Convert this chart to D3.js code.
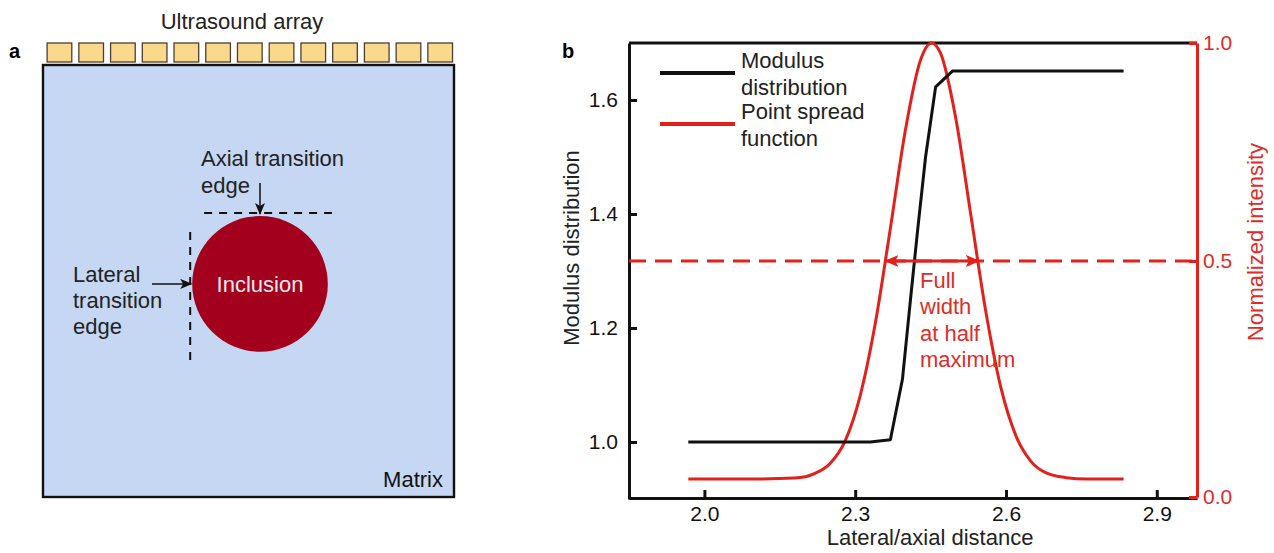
<!DOCTYPE html>
<html>
<head>
<meta charset="utf-8">
<script src="https://cdn.jsdelivr.net/npm/d3@7"></script>
<style>
  html, body { margin: 0; padding: 0; background: #fff; }
  svg { display: block; font-family: "Liberation Sans", Arial, sans-serif; }
</style>
</head>
<body>
<svg id="fig" width="1274" height="553"></svg>
<script>
// ---------- Panel b data ----------
// Modulus distribution across the inclusion boundary (distance, modulus)
const modulusDistance = [1.968, 2.330, 2.370, 2.394, 2.410, 2.424, 2.440, 2.460, 2.494, 2.834];
const modulusValue    = [1.000, 1.000, 1.004, 1.110, 1.250, 1.370, 1.500, 1.623, 1.651, 1.651];

// Point spread function (distance, normalized intensity)
const psfDistance  = [1.968, 2.100, 2.180, 2.220, 2.250, 2.280, 2.310, 2.340, 2.370, 2.400, 2.430, 2.452,
                      2.470, 2.500, 2.530, 2.560, 2.590, 2.620, 2.650, 2.680, 2.720, 2.760, 2.834];
const psfIntensity = [0.038, 0.038, 0.040, 0.050, 0.071, 0.119, 0.215, 0.368, 0.575, 0.801, 0.961, 1.000,
                      0.976, 0.828, 0.606, 0.392, 0.231, 0.129, 0.075, 0.051, 0.041, 0.038, 0.038];

const halfMaximum = 0.5;
const fwhmRange = [2.360, 2.546];

const xTicks = [2.0, 2.3, 2.6, 2.9];
const yLeftTicks = [1.0, 1.2, 1.4, 1.6];
const yRightTicks = [0.0, 0.5, 1.0];

const legendLabels = [["Modulus", "distribution"], ["Point spread", "function"]];
const fwhmLabel = ["Full", "width", "at half", "maximum"];

// ---------- Panel a schematic (in schematic units) ----------
const elementCount = 13;
const elementPitch = 7.72;
const elementWidth = 6.0;
const elementOffset = 1.0;
const matrixSize = [100, 105];
const inclusionCenter = [52.8, 53.2];
const inclusionRadius = 16.5;
const axialEdgeSpan = [39.2, 70.3];
const lateralEdgeSpan = [40.6, 72.5];

const RED = "#e3211c";
const RED_TEXT = "#de2c27";
const FONT = 22;
const TICK_FONT = 21;

const svg = d3.select("#fig");

// Arrow markers
const defs = svg.append("defs");
defs.append("marker").attr("id", "arrowBlack")
  .attr("viewBox", "0 0 12 10").attr("refX", 11).attr("refY", 5)
  .attr("markerWidth", 12).attr("markerHeight", 10).attr("markerUnits", "userSpaceOnUse")
  .attr("orient", "auto")
  .append("path").attr("d", "M0,0 L12,5 L0,10 L3,5 Z").attr("fill", "#111");
defs.append("marker").attr("id", "arrowRed")
  .attr("viewBox", "0 0 14 12").attr("refX", 13).attr("refY", 6)
  .attr("markerWidth", 14).attr("markerHeight", 12).attr("markerUnits", "userSpaceOnUse")
  .attr("orient", "auto-start-reverse")
  .append("path").attr("d", "M0,0 L14,6 L0,12 L3,6 Z").attr("fill", RED);

// ================= Panel a =================
const sx = d3.scaleLinear().domain([0, matrixSize[0]]).range([43, 454]);
const sy = d3.scaleLinear().domain([0, matrixSize[1]]).range([65, 497]);
const pa = svg.append("g");

pa.append("text").attr("x", 9).attr("y", 58).attr("font-size", 20).attr("font-weight", "bold").text("a");
pa.append("text").attr("x", 242).attr("y", 29).attr("text-anchor", "middle").attr("font-size", FONT)
  .attr("fill", "#222").text("Ultrasound array");

// transducer elements
pa.selectAll("rect.element").data(d3.range(elementCount)).join("rect")
  .attr("class", "element")
  .attr("x", i => sx(elementOffset + i * elementPitch))
  .attr("y", 43)
  .attr("width", sx(elementWidth) - sx(0))
  .attr("height", 19)
  .attr("fill", "#fad88c").attr("stroke", "#4a3f33").attr("stroke-width", 1.3);

// matrix
pa.append("rect").attr("x", sx(0)).attr("y", sy(0))
  .attr("width", sx(matrixSize[0]) - sx(0)).attr("height", sy(matrixSize[1]) - sy(0))
  .attr("fill", "#c5d7f2").attr("stroke", "#111").attr("stroke-width", 2.4);
pa.append("text").attr("x", 443).attr("y", 487).attr("text-anchor", "end").attr("font-size", FONT)
  .attr("fill", "#111").text("Matrix");

// inclusion
const cx = sx(inclusionCenter[0]), cy = sy(inclusionCenter[1]);
const r = sx(inclusionRadius) - sx(0);
pa.append("circle").attr("cx", cx).attr("cy", cy).attr("r", r).attr("fill", "#a3001e");
pa.append("text").attr("x", cx).attr("y", cy + 8).attr("text-anchor", "middle").attr("font-size", FONT)
  .attr("fill", "#f7e9ea").text("Inclusion");

// transition edges
pa.append("line").attr("x1", sx(axialEdgeSpan[0])).attr("x2", sx(axialEdgeSpan[1]))
  .attr("y1", cy - r - 3).attr("y2", cy - r - 3)
  .attr("stroke", "#111").attr("stroke-width", 2).attr("stroke-dasharray", "8,7");
pa.append("line").attr("x1", cx - r - 2).attr("x2", cx - r - 2)
  .attr("y1", sy(lateralEdgeSpan[0])).attr("y2", sy(lateralEdgeSpan[1]))
  .attr("stroke", "#111").attr("stroke-width", 2).attr("stroke-dasharray", "8,7");

// arrows
pa.append("line").attr("x1", cx).attr("x2", cx).attr("y1", 183).attr("y2", cy - r - 2)
  .attr("stroke", "#111").attr("stroke-width", 1.5).attr("marker-end", "url(#arrowBlack)");
pa.append("line").attr("x1", 152).attr("x2", cx - r - 1).attr("y1", cy).attr("y2", cy)
  .attr("stroke", "#111").attr("stroke-width", 1.5).attr("marker-end", "url(#arrowBlack)");

// edge labels
const axialLbl = pa.append("text").attr("font-size", FONT).attr("fill", "#222");
["Axial transition", "edge"].forEach((t, i) =>
  axialLbl.append("tspan").attr("x", 201).attr("y", 166 + i * 27).text(t));
const latLbl = pa.append("text").attr("font-size", FONT).attr("fill", "#222");
["Lateral", "transition", "edge"].forEach((t, i) =>
  latLbl.append("tspan").attr("x", 73).attr("y", 282 + i * 26).text(t));

// ================= Panel b =================
const plotLeft = 629, plotRight = 1197, plotTop = 43, plotBottom = 498;
const x = d3.scaleLinear().domain([1.85, 2.98]).range([plotLeft, plotRight]);
const yL = d3.scaleLinear().domain([0.9, 1.7]).range([plotBottom + 1, plotTop]);
// intensity axis: its 0.5 mark sits slightly above the frame midpoint
const yR = d3.scaleLinear().domain([0.0, 0.5, 1.0]).range([plotBottom - 1, 261, plotTop]);
const pb = svg.append("g");

pb.append("text").attr("x", 562).attr("y", 58).attr("font-size", 20).attr("font-weight", "bold").text("b");

// top frame line
pb.append("line").attr("x1", plotLeft).attr("x2", plotRight).attr("y1", plotTop).attr("y2", plotTop)
  .attr("stroke", "#111").attr("stroke-width", 3);

function styleAxis(g, color) {
  g.select(".domain").attr("stroke", color).attr("stroke-width", 3);
  g.selectAll(".tick line").attr("stroke", color).attr("stroke-width", 3);
  g.selectAll(".tick text").attr("fill", color).attr("font-size", TICK_FONT)
    .attr("font-family", "Liberation Sans, Arial, sans-serif");
}

const gx = pb.append("g").attr("transform", `translate(0,${plotBottom})`)
  .call(d3.axisBottom(x).tickValues(xTicks).tickFormat(d3.format(".1f"))
    .tickSizeInner(-8).tickSizeOuter(0).tickPadding(8));
styleAxis(gx, "#111");

const gyl = pb.append("g").attr("transform", `translate(${plotLeft},0)`)
  .call(d3.axisLeft(yL).tickValues(yLeftTicks).tickFormat(d3.format(".1f"))
    .tickSizeInner(-8).tickSizeOuter(0).tickPadding(11));
styleAxis(gyl, "#111");

const gyr = pb.append("g").attr("transform", `translate(${plotRight},0)`)
  .call(d3.axisRight(yR).tickValues(yRightTicks).tickFormat(d3.format(".1f"))
    .tickSizeInner(-8).tickSizeOuter(0).tickPadding(6));
styleAxis(gyr, RED);
gyr.selectAll(".tick text").attr("fill", RED_TEXT);

// axis titles
pb.append("text").attr("x", x(2.449)).attr("y", 545).attr("text-anchor", "middle")
  .attr("font-size", FONT).attr("fill", "#222").text("Lateral/axial distance");
pb.append("text").attr("transform", "translate(579,248) rotate(-90)").attr("text-anchor", "middle")
  .attr("font-size", FONT).attr("fill", "#222").text("Modulus distribution");
pb.append("text").attr("transform", "translate(1263,242) rotate(-90)").attr("text-anchor", "middle")
  .attr("font-size", FONT).attr("fill", RED_TEXT).text("Normalized intensity");

// half-maximum reference line
pb.append("line").attr("x1", plotLeft).attr("x2", plotRight)
  .attr("y1", yR(halfMaximum)).attr("y2", yR(halfMaximum))
  .attr("stroke", RED).attr("stroke-width", 3).attr("stroke-dasharray", "17,9");

// curves
const psfLine = d3.line().x(i => x(psfDistance[i])).y(i => yR(psfIntensity[i])).curve(d3.curveMonotoneX);
pb.append("path").attr("d", psfLine(d3.range(psfDistance.length)))
  .attr("fill", "none").attr("stroke", RED).attr("stroke-width", 3);

const modLine = d3.line().x(i => x(modulusDistance[i])).y(i => yL(modulusValue[i]));
pb.append("path").attr("d", modLine(d3.range(modulusDistance.length)))
  .attr("fill", "none").attr("stroke", "#111").attr("stroke-width", 3).attr("stroke-linejoin", "round");

// FWHM double arrow
pb.append("line").attr("x1", x(fwhmRange[0])).attr("x2", x(fwhmRange[1]))
  .attr("y1", yR(halfMaximum)).attr("y2", yR(halfMaximum))
  .attr("stroke", RED).attr("stroke-width", 3)
  .attr("marker-start", "url(#arrowRed)").attr("marker-end", "url(#arrowRed)");
const fw = pb.append("text").attr("font-size", FONT).attr("fill", RED_TEXT);
fwhmLabel.forEach((t, i) => fw.append("tspan").attr("x", 920).attr("y", 288 + i * 26.3).text(t));

// legend
const legendColors = ["#111", RED];
legendLabels.forEach((lines, k) => {
  const ly = 73 + k * 51;
  pb.append("line").attr("x1", 660).attr("x2", 735).attr("y1", ly).attr("y2", ly)
    .attr("stroke", legendColors[k]).attr("stroke-width", 4);
  const t = pb.append("text").attr("font-size", FONT).attr("fill", "#222");
  lines.forEach((s, j) => t.append("tspan").attr("x", 741).attr("y", ly - 5 + j * 26.5).text(s));
});
</script>
</body>
</html>
